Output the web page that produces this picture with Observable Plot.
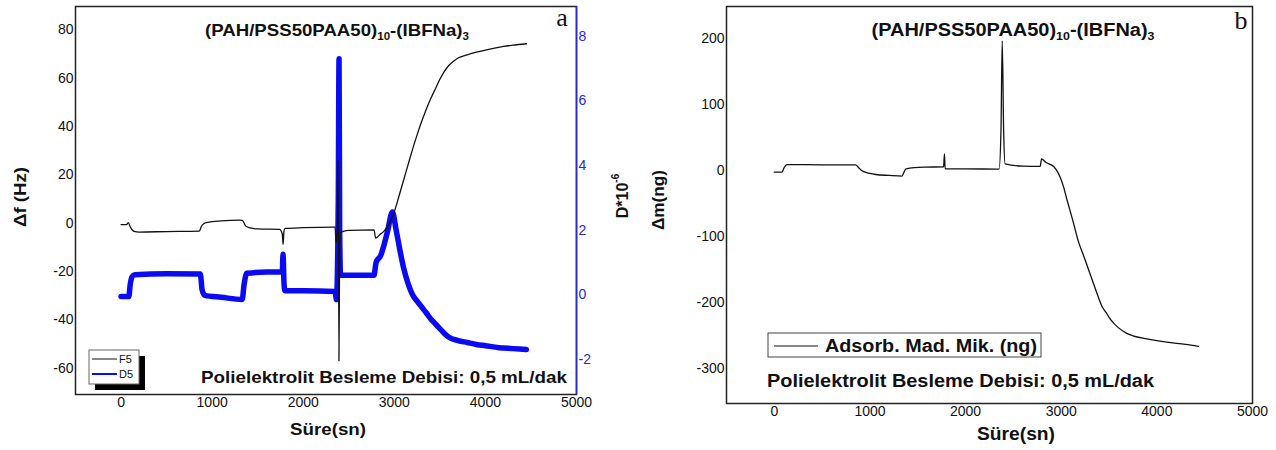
<!DOCTYPE html>
<html><head><meta charset="utf-8">
<script src="https://cdn.jsdelivr.net/npm/d3@7"></script>
<script src="https://cdn.jsdelivr.net/npm/@observablehq/plot@0.6"></script>
<style>
body{margin:0;background:#fff;}
#wrap{position:relative;width:1276px;height:450px;overflow:hidden;background:#fff;}
#pa{position:absolute;left:0;top:0;}
#pb{position:absolute;left:640px;top:0;}
</style></head><body><div id="wrap"><div id="pa"></div><div id="pb"></div></div>
<script>
// ---------- data ----------
const f5Time = [0,60,80,100,143,200,500,860,880,911,950,1100,1300,1332,1369,1420,1500,1740,1770,1779,1788,1800,2000,2340,2350,2360,2375,2385,2392,2400,2410,2440,2500,2777,2795,2840,2887,2940,2990,3050,3100,3150,3200,3250,3300,3350,3400,3450,3500,3550,3600,3650,3700,3800,3900,4000,4100,4200,4300,4450];
const f5Val  = [-0.6,-0.6,0.2,-1.5,-3.4,-3.7,-3.5,-3.3,-1.5,-0.2,0.3,0.9,1.2,1.1,-1.2,-2.0,-2.4,-2.6,-4.5,-8.8,-3.5,-2.2,-1.9,-1.7,-1.7,-8,-3,26,-57,-10,-3.8,-3.4,-3.0,-2.8,-6.2,-4.8,-3.3,-0.5,3.6,11,17.5,24,30.5,36.5,42,47,51.5,55.5,59.5,62.8,65.3,67,68.3,69.6,70.7,71.6,72.4,73.1,73.6,74.2];
const d5Time = [0,85,100,120,150,500,870,890,920,1100,1330,1350,1380,1600,1770,1778,1790,1800,2000,2350,2365,2385,2393,2400,2410,2500,2777,2800,2850,2924,2979,3020,3060,3100,3150,3200,3250,3300,3350,3400,3450,3500,3550,3600,3700,3800,3900,4000,4150,4300,4450];
const d5Val  = [-0.06,-0.06,0.3,0.55,0.62,0.65,0.64,0.15,-0.02,-0.08,-0.15,0.3,0.66,0.7,0.7,1.25,0.3,0.12,0.12,0.1,-0.15,3,7.3,2,0.6,0.6,0.6,1.0,1.21,1.94,2.56,2.0,1.4,0.85,0.35,0.0,-0.2,-0.38,-0.56,-0.75,-0.9,-1.05,-1.2,-1.32,-1.42,-1.48,-1.54,-1.58,-1.64,-1.67,-1.7];
const mTime = [0,80,100,130,500,850,880,912,1000,1060,1200,1334,1350,1377,1568,1770,1779,1786,2000,2350,2370,2383,2398,2413,2600,2780,2794,2837,2921,2963,2990,3026,3062,3088,3130,3175,3240,3301,3365,3428,3470,3500,3555,3600,3681,3750,3893,4104,4300,4435];
const mVal  = [-2,-2,4,9.5,9,9,5,0.5,-4,-5.6,-7,-8,-4,3,5.5,6,25.7,3,3,2.5,60,197,60,10.6,7,6.6,18,13,6.5,-2,-10,-25,-45,-58,-80,-105,-131,-156,-182,-206,-215,-222,-232,-238,-246,-250,-254.5,-259.7,-263,-266];

const xTicks = [0,1000,2000,3000,4000,5000];
const fTicks = [-60,-40,-20,0,20,40,60,80];
const dTicks = [-2,0,2,4,6,8];
const mTicks = [-300,-200,-100,0,100,200];
const xDomain = [-500,5000];
const fDomain = [-70.9,89.6];
const dDomain = [-3.09,8.92];
const mDomain = [-352.6,249];

const seriesNames = ["F5","D5"];
const legendB = "Adsorb. Mad. Mik. (ng)";
const noteText = "Polielektrolit Besleme Debisi: 0,5 mL/dak";
const xLabel = "Süre(sn)";

const FF = "'Liberation Sans', Arial, Helvetica, sans-serif";
const BLUE = "#0a0af5";
const AXBLUE = "#2a2ad0";
const plain = d => String(d);

// ---------- panel a ----------
const toF = d3.scaleLinear(dDomain, fDomain);
const F = f5Time.map((t,i)=>({t, v:f5Val[i]}));
const D = d5Time.map((t,i)=>({t, v:toF(d5Val[i])}));

const plotA = Plot.plot({
  width:640, height:450, marginLeft:75, marginRight:64, marginTop:6, marginBottom:56,
  style:{fontFamily:FF, fontSize:"14px", color:"#111", background:"white", overflow:"visible"},
  x:{domain:xDomain}, y:{domain:fDomain},
  marks:[
    Plot.axisX({ticks:xTicks, tickSize:0, tickPadding:3, label:null, fontSize:14, tickFormat:plain}),
    Plot.axisY({ticks:fTicks, tickSize:0, tickPadding:2, label:null, fontSize:14, tickFormat:plain}),
    Plot.axisY({anchor:"right", ticks:dTicks.map(toF), tickSize:0, tickPadding:2, label:null, fontSize:14,
      tickFormat:d=>String(Math.round(toF.invert(d))), fill:AXBLUE, stroke:AXBLUE}),
    Plot.line(D,{x:"t",y:"v",stroke:BLUE,strokeWidth:5.5,curve:"monotone-x"}),
    Plot.line(F,{x:"t",y:"v",stroke:"#111",strokeWidth:1.3,curve:"monotone-x"}),
    Plot.frame({stroke:"#222", strokeWidth:1.5}),
    Plot.ruleX([xDomain[1]],{stroke:AXBLUE,strokeWidth:1.6})
  ]
});
document.getElementById("pa").appendChild(plotA);

// ---------- panel b ----------
const M = mTime.map((t,i)=>({t, v:mVal[i]}));
const plotB = Plot.plot({
  width:636, height:450, marginLeft:86, marginRight:24, marginTop:6, marginBottom:47,
  style:{fontFamily:FF, fontSize:"14px", color:"#111", background:"white", overflow:"visible"},
  x:{domain:xDomain}, y:{domain:mDomain},
  marks:[
    Plot.axisX({ticks:xTicks, tickSize:0, tickPadding:3, label:null, fontSize:14, tickFormat:plain}),
    Plot.axisY({ticks:mTicks, tickSize:0, tickPadding:2, label:null, fontSize:14, tickFormat:plain}),
    Plot.line(M,{x:"t",y:"v",stroke:"#111",strokeWidth:1.3,curve:"monotone-x"}),
    Plot.frame({stroke:"#222", strokeWidth:1.5})
  ]
});
document.getElementById("pb").appendChild(plotB);

// ---------- annotations ----------
function txt(svg, x, y, s, o={}){
  const t = svg.append("text").attr("x",x).attr("y",y)
    .attr("font-family",o.family||FF).attr("font-size",o.size||16)
    .attr("font-weight",o.weight||"bold").attr("fill",o.fill||"#111")
    .attr("text-anchor",o.anchor||"middle").attr("dominant-baseline","central");
  if (o.rotate) t.attr("transform",`rotate(-90 ${x} ${y})`);
  if (o.len){ t.attr("textLength",o.len).attr("lengthAdjust","spacingAndGlyphs"); }
  t.text(s);
  return t;
}
function title(svg, x, y, size, len){
  const t = svg.append("text").attr("x",x).attr("y",y).attr("text-anchor","middle")
    .attr("font-family",FF).attr("font-weight","bold").attr("font-size",size).attr("fill","#111");
  t.append("tspan").text("(PAH/PSS50PAA50)");
  t.append("tspan").attr("font-size",size*0.62).attr("dy",4).text("10");
  t.append("tspan").attr("dy",-4).text("-(IBFNa)");
  t.append("tspan").attr("font-size",size*0.62).attr("dy",4).text("3");
  if (len) t.attr("textLength",len).attr("lengthAdjust","spacingAndGlyphs");
}

const sa = d3.select(plotA);
title(sa, 337, 36, 17, 264);
txt(sa, 562, 17, "a", {family:"'Liberation Serif','DejaVu Serif',serif", weight:"normal", size:26});
txt(sa, 20, 197, "Δf (Hz)", {rotate:true, size:16, len:60});
txt(sa, 328, 429, xLabel, {size:17, len:76});
txt(sa, 201, 377, noteText, {anchor:"start", size:17, len:366});
// D*10^-6
{
  const x=622, y=196;
  const t = sa.append("text").attr("x",x).attr("y",y).attr("text-anchor","middle")
    .attr("dominant-baseline","central").attr("font-family",FF).attr("font-weight","bold")
    .attr("font-size",16).attr("fill","#111").attr("transform",`rotate(-90 ${x} ${y})`);
  t.append("tspan").text("D*10");
  t.append("tspan").attr("font-size",10).attr("dy",-7).text("-6");
}
// legend a
sa.append("rect").attr("x",95).attr("y",356).attr("width",50).attr("height",34).attr("fill","#000");
sa.append("rect").attr("x",89).attr("y",350).attr("width",50).attr("height",34).attr("fill","#fff").attr("stroke","#666").attr("stroke-width",1);
sa.append("line").attr("x1",92).attr("x2",117).attr("y1",359).attr("y2",359).attr("stroke","#111").attr("stroke-width",1);
sa.append("line").attr("x1",92).attr("x2",117).attr("y1",374).attr("y2",374).attr("stroke",BLUE).attr("stroke-width",2);
txt(sa, 119, 359, seriesNames[0], {anchor:"start", size:11, weight:"normal"});
txt(sa, 119, 374, seriesNames[1], {anchor:"start", size:11, weight:"normal"});

const sb = d3.select(plotB);
title(sb, 373, 36, 18, 283);
txt(sb, 601, 20, "b", {family:"'Liberation Serif','DejaVu Serif',serif", weight:"normal", size:26});
txt(sb, 18, 200, "Δm(ng)", {rotate:true, size:17, len:60});
txt(sb, 376, 434, xLabel, {size:18, len:78});
txt(sb, 127, 381, noteText, {anchor:"start", size:18, len:387});
sb.append("rect").attr("x",128).attr("y",333).attr("width",273).attr("height",24).attr("fill","#fff").attr("stroke","#444").attr("stroke-width",1);
sb.append("line").attr("x1",134).attr("x2",178).attr("y1",346).attr("y2",346).attr("stroke","#111").attr("stroke-width",1);
txt(sb, 185, 346, legendB, {anchor:"start", size:18, len:212});
</script></body></html>
